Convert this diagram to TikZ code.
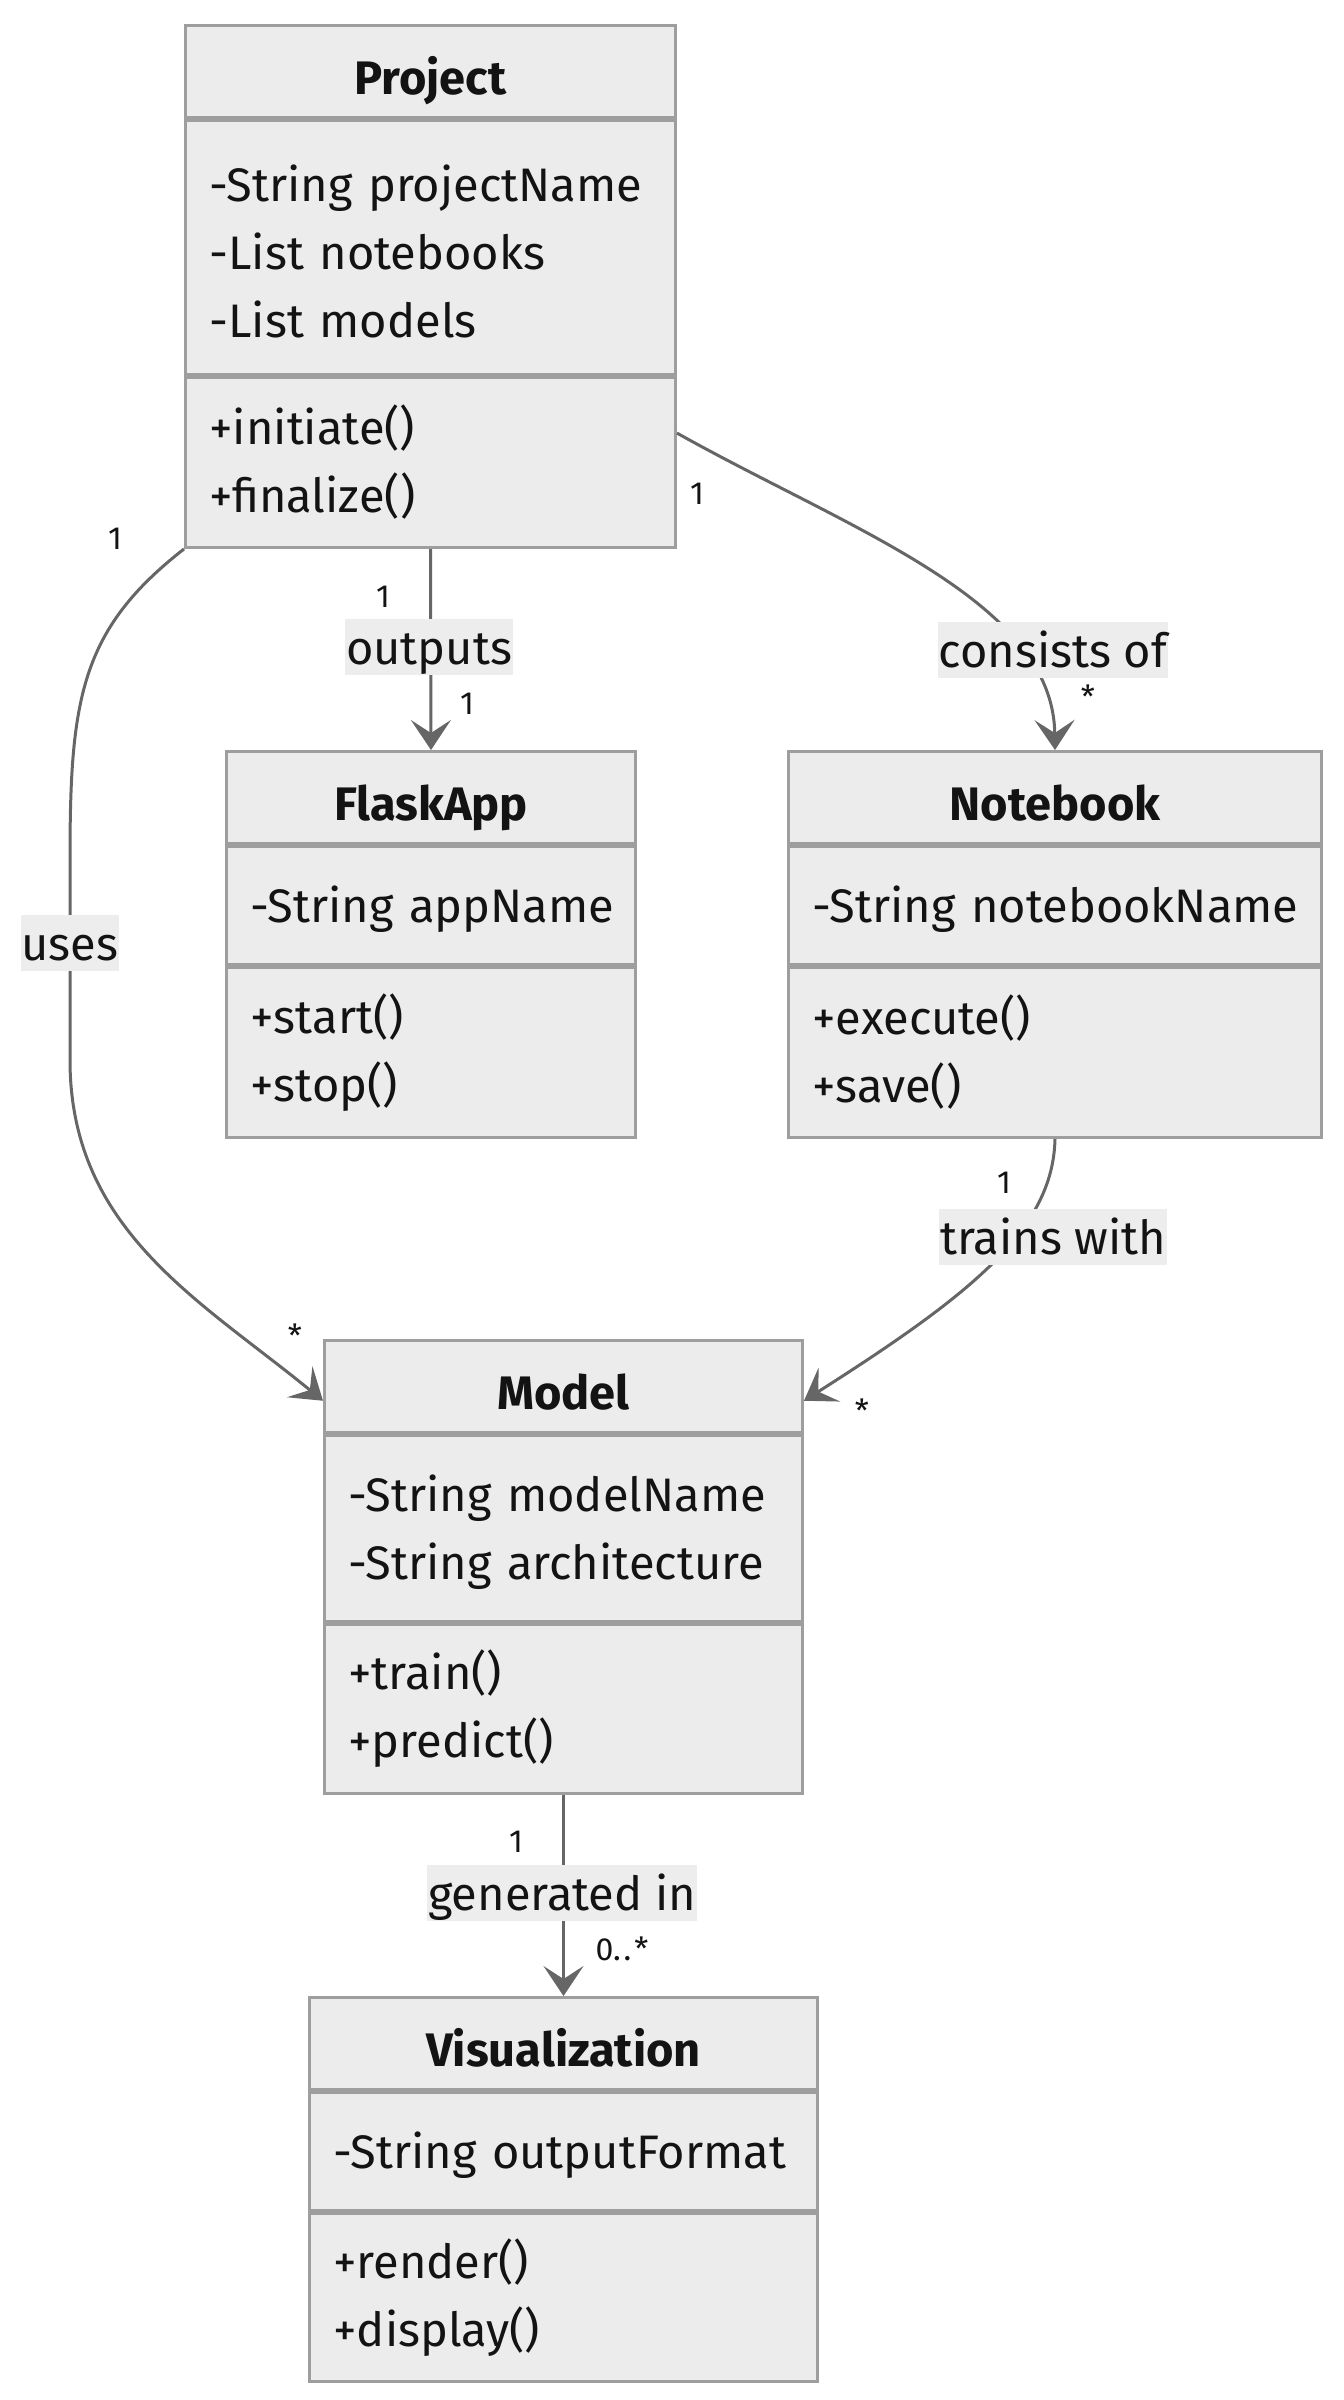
\documentclass[tikz,border=0pt]{standalone}
\usepackage{fontspec}
\setmainfont{Fira Sans}
\usetikzlibrary{arrows.meta,calc}

\newlength{\du}
\setlength{\du}{0.5pt}

\definecolor{boxfill}{HTML}{ECECEC}
\definecolor{boxline}{HTML}{9E9E9E}
\definecolor{edgeline}{HTML}{666666}
\definecolor{labelbg}{HTML}{EDEDED}
\definecolor{ink}{HTML}{131313}

\tikzset{
  clshead/.style={draw=boxline, fill=boxfill, line width=1.5pt, anchor=north west,
    minimum height=92\du, inner sep=0pt, text height=29pt, text depth=6pt, text=ink,
    font=\fontsize{23.5}{34}\selectfont\bfseries},
  clsbody/.style={draw=boxline, fill=boxfill, line width=1.5pt, anchor=north west,
    inner xsep=12pt, inner ysep=0pt, align=left, text=ink,
    font=\fontsize{23.5}{34}\selectfont},
  clsattr/.style={clsbody, execute at begin node={\rule{0pt}{22pt}}},
  rel/.style={draw=edgeline, line width=1.5pt,
    -{Stealth[length=15pt,width=20pt,inset=6.5pt]}},
  rellabel/.style={fill=labelbg, inner xsep=0.5pt, inner ysep=0pt,
    minimum height=56\du, text height=22pt, text depth=5pt,
    text=ink, font=\fontsize{23.5}{34}\selectfont},
  mult/.style={inner sep=0pt, text=ink, font=\fontsize{16}{18}\selectfont}
}

\begin{document}
\begin{tikzpicture}
\pgftransformxscale{1.000000}
\pgftransformyscale{-1.000000}
\useasboundingbox (0\du,0\du) rectangle (1344\du,2400\du);

% Project
\node[clshead, minimum width=490\du] (prj) at (184\du,24\du) {Project};
\node[clsattr, text width=442\du, minimum height=254\du] (prj-a) at (prj.south west)
  {\mbox{-String projectName}\\-List notebooks\\-List models};
\node[clsbody, text width=442\du, minimum height=170\du] (prj-m) at (prj-a.south west)
  {+initiate()\\+finalize()};

% FlaskApp
\node[clshead, minimum width=409\du] (flask) at (225\du,750\du) {FlaskApp};
\node[clsattr, text width=361\du, minimum height=118\du] (flask-a) at (flask.south west)
  {\mbox{-String appName}};
\node[clsbody, text width=361\du, minimum height=170\du] (flask-m) at (flask-a.south west)
  {+start()\\+stop()};

% Notebook
\node[clshead, minimum width=533\du] (nb) at (787\du,750\du) {Notebook};
\node[clsattr, text width=485\du, minimum height=118\du] (nb-a) at (nb.south west)
  {\mbox{-String notebookName}};
\node[clsbody, text width=485\du, minimum height=170\du] (nb-m) at (nb-a.south west)
  {+execute()\\+save()};

% Model
\node[clshead, minimum width=478\du] (model) at (323\du,1339\du) {Model};
\node[clsattr, text width=430\du, minimum height=186\du] (model-a) at (model.south west)
  {\mbox{-String modelName}\\\mbox{-String architecture}};
\node[clsbody, text width=430\du, minimum height=169\du] (model-m) at (model-a.south west)
  {+train()\\+predict()};

% Visualization
\node[clshead, minimum width=508\du] (vis) at (308\du,1996\du) {Visualization};
\node[clsattr, text width=460\du, minimum height=118\du] (vis-a) at (vis.south west)
  {\mbox{-String outputFormat}};
\node[clsbody, text width=460\du, minimum height=168\du] (vis-m) at (vis-a.south west)
  {+render()\\+display()};

% relations
\draw[rel] (prj-m.south) -- (flask.north);
\draw[rel] ($(prj-m.north east)!0.33!(prj-m.south east)$)
  .. controls (850\du,530\du) and (1053\du,600\du) .. (nb.north);
\draw[rel] (prj-m.south west)
  .. controls (80\du,630\du) and (70\du,700\du) .. (70\du,860\du)
  -- (70\du,1060\du)
  .. controls (70\du,1230\du) and (200\du,1300\du) .. ($(model.west)!0.3!(model.south west)$);
\draw[rel] (nb-m.south)
  .. controls (1053\du,1230\du) and (970\du,1295\du) .. ($(model.east)!0.3!(model.south east)$);
\draw[rel] (model-m.south) -- (vis.north);

\node[rellabel] (outputs) at (429\du,647\du) {outputs};
\node[rellabel] (consists) at (1053\du,650\du) {consists of};
\node[rellabel] (uses) at (70\du,943\du) {uses};
\node[rellabel] (trains) at (1053\du,1237\du) {trains with};
\node[rellabel] (generated) at (562\du,1893\du) {generated in};

\node[mult] (outputs-src) at (383\du,597\du) {1};
\node[mult] (outputs-dst) at (467\du,704\du) {1};
\node[mult] (consists-src) at (697\du,494\du) {1};
\node[mult] (consists-dst) at (1088\du,697\du) {*};
\node[mult] (uses-src) at (115\du,539\du) {1};
\node[mult] (uses-dst) at (295\du,1336\du) {*};
\node[mult] (trains-src) at (1004\du,1183\du) {1};
\node[mult] (trains-dst) at (862\du,1411\du) {*};
\node[mult] (generated-src) at (516\du,1842\du) {1};
\node[mult] (generated-dst) at (622\du,1949\du) {0.\kern1.5pt.\kern1.5pt*};
\end{tikzpicture}
\end{document}
